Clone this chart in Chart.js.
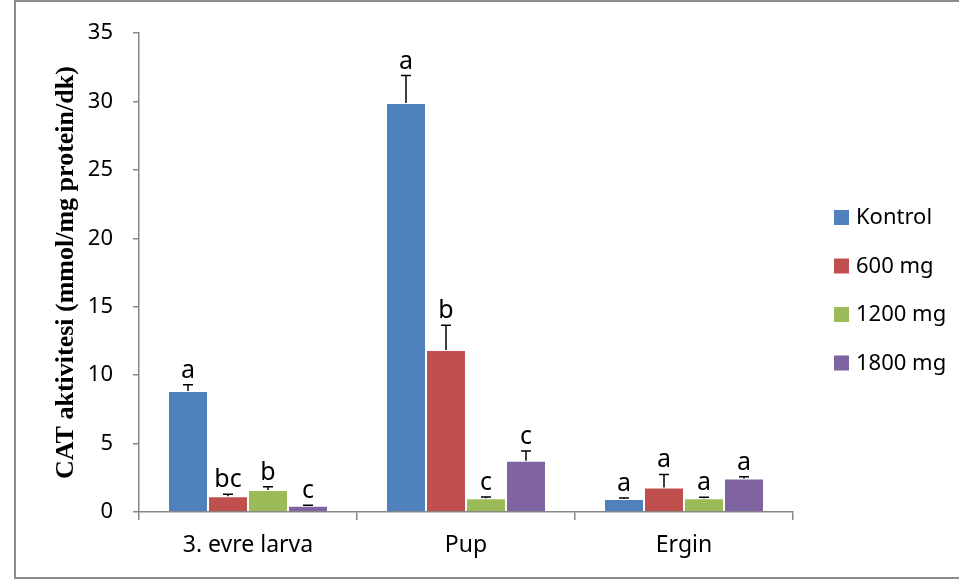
<!DOCTYPE html>
<html>
<head>
<meta charset="utf-8">
<script src="https://cdn.jsdelivr.net/npm/chart.js@4"></script>
<style>
  html, body { margin: 0; padding: 0; background: #fff; overflow: hidden; }
  #frame { position: absolute; left: 14px; top: 0; width: 1000px; height: 575px; border: 2px solid #8c8c8c; }
  #wrap { position: absolute; left: 0; top: 0; width: 959px; height: 579px; }
</style>
</head>
<body>
<div id="frame"></div>
<div id="wrap"><canvas id="catChart"></canvas></div>
<script>
// Life stages on the x axis
const categories = ["3. evre larva", "Pup", "Ergin"];
const seriesNames = ["Kontrol", "600 mg", "1200 mg", "1800 mg"];

// Mean CAT activity per group
const kontrol = [8.85, 29.9, 0.95];
const mg600 = [1.15, 11.85, 1.8];
const mg1200 = [1.6, 1.0, 1.0];
const mg1800 = [0.45, 3.75, 2.45];

// Standard error (drawn upward only)
const errKontrol = [0.45, 2.0, 0.08];
const err600 = [0.15, 1.8, 0.95];
const err1200 = [0.25, 0.1, 0.08];
const err1800 = [0.05, 0.7, 0.12];

// Significance letters
const letKontrol = ["a", "a", "a"];
const let600 = ["bc", "b", "a"];
const let1200 = ["b", "c", "a"];
const let1800 = ["c", "c", "a"];

const yTicks = [0, 5, 10, 15, 20, 25, 30, 35];

const colors = ["#4f81bd", "#c0504d", "#9bbb59", "#8064a2"];
const values = [kontrol, mg600, mg1200, mg1800];
const errors = [errKontrol, err600, err1200, err1800];
const letters = [letKontrol, let600, let1200, let1800];

const tickFont = { family: "'Noto Sans', sans-serif", size: 22 };

// error bars + letters above each bar
const errorBarPlugin = {
    id: "errorBars",
    afterDatasetsDraw(chart) {
        const ctx = chart.ctx;
        const y = chart.scales.y;
        ctx.save();
        chart.data.datasets.forEach((ds, di) => {
            const meta = chart.getDatasetMeta(di);
            meta.data.forEach((bar, i) => {
                const top = y.getPixelForValue(ds.data[i] + ds.err[i]);
                ctx.strokeStyle = "#000";
                ctx.lineWidth = 1.5;
                ctx.beginPath();
                ctx.moveTo(bar.x, bar.y);
                ctx.lineTo(bar.x, top);
                ctx.moveTo(bar.x - 5, top);
                ctx.lineTo(bar.x + 5, top);
                ctx.stroke();
                ctx.fillStyle = "#000";
                ctx.font = "25px 'Noto Sans', sans-serif";
                ctx.textAlign = "center";
                ctx.textBaseline = "alphabetic";
                ctx.fillText(ds.letters[i], bar.x, top - 7);
            });
        });
        ctx.restore();
    }
};

// legend on the right
const sideLegend = {
    id: "sideLegend",
    afterDraw(chart) {
        const ctx = chart.ctx;
        ctx.save();
        ctx.font = "22px 'Noto Sans', sans-serif";
        ctx.textBaseline = "middle";
        ctx.textAlign = "left";
        chart.data.datasets.forEach((ds, i) => {
            const cy = 217 + i * 48.5;
            ctx.fillStyle = ds.backgroundColor;
            ctx.fillRect(834, cy - 7, 15, 15);
            ctx.fillStyle = "#000";
            ctx.fillText(ds.label, 856, cy + 1);
        });
        ctx.restore();
    }
};

new Chart(document.getElementById("catChart"), {
    type: "bar",
    data: {
        labels: categories,
        datasets: values.map((v, i) => ({
            label: seriesNames[i],
            data: v,
            err: errors[i],
            letters: letters[i],
            backgroundColor: colors[i],
            borderColor: "rgba(255,255,255,0.6)",
            borderWidth: 1,
            categoryPercentage: 0.734,
            barPercentage: 1.0
        }))
    },
    options: {
        responsive: true,
        maintainAspectRatio: false,
        animation: false,
        layout: { padding: { top: 32, right: 166, left: 0, bottom: 0 } },
        plugins: {
            legend: { display: false },
            tooltip: { enabled: false }
        },
        scales: {
            x: {
                grid: { drawOnChartArea: false, offset: true, tickLength: 8, color: "#868686", lineWidth: 1.5 },
                border: { color: "#868686", width: 1.5 },
                ticks: { color: "#000", font: { family: "'Noto Sans', sans-serif", size: 23 }, padding: 12 },
                afterFit(scale) { scale.height = 67; }
            },
            y: {
                min: 0,
                max: 35,
                afterBuildTicks(scale) { scale.ticks = yTicks.map(v => ({ value: v })); },
                grid: { drawOnChartArea: false, tickLength: 6, color: "#868686", lineWidth: 1.5 },
                border: { color: "#868686", width: 1.5 },
                ticks: { color: "#000", font: tickFont, padding: 20 },
                title: {
                    display: true,
                    text: "CAT aktivitesi (mmol/mg protein/dk)",
                    color: "#000",
                    font: { family: "'Liberation Serif', serif", size: 26, weight: "bold" },
                    padding: { top: 51, bottom: 0 }
                },
                afterFit(scale) { scale.width = 139; }
            }
        }
    },
    plugins: [errorBarPlugin, sideLegend]
});
</script>
</body>
</html>
